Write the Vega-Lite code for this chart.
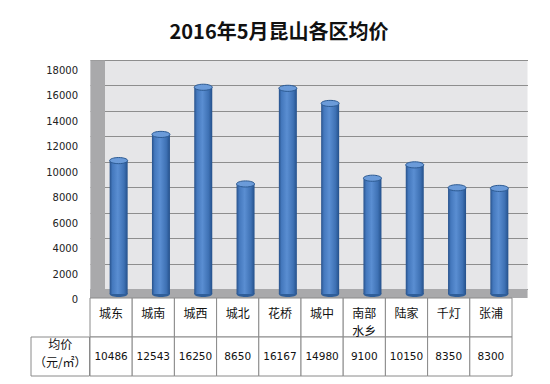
{
  "$schema": "https://vega.github.io/schema/vega-lite/v6.json",
  "padding": {"left": 30, "right": 24, "top": 23, "bottom": 6},
  "background": "white",
  "title": {"text": "2016年5月昆山各区均价", "font": "Noto Sans CJK SC", "fontSize": 20, "fontWeight": "bold", "color": "#111111", "anchor": "middle", "offset": 17},
  "config": {"axis": {"labelOverlap": false}, "axisY": {"labelOverlap": false}, "axisQuantitative": {"labelOverlap": false}},
  "datasets": {
    "d": [
      {"district": "城东", "label": "城东", "value": 10486},
      {"district": "城南", "label": "城南", "value": 12543},
      {"district": "城西", "label": "城西", "value": 16250},
      {"district": "城北", "label": "城北", "value": 8650},
      {"district": "花桥", "label": "花桥", "value": 16167},
      {"district": "城中", "label": "城中", "value": 14980},
      {"district": "南部水乡", "label": "南部\n水乡", "value": 9100},
      {"district": "陆家", "label": "陆家", "value": 10150},
      {"district": "千灯", "label": "千灯", "value": 8350},
      {"district": "张浦", "label": "张浦", "value": 8300}
    ]
  },
  "columns": 2,
  "spacing": 0,
  "bounds": "flush",
  "align": "each",
  "resolve": {"scale": {"x": "independent", "y": "independent"}},
  "concat": [
    {
      "width": 58.5,
      "height": 238,
      "view": {"stroke": null},
      "data": {"values": [{}]},
      "mark": {"type": "text", "text": ""},
      "encoding": {}
    },
    {
      "width": 437.5,
      "height": 238,
      "view": {"fill": "#e6e6e8", "stroke": null},
      "data": {"name": "d"},
      "layer": [
        {
          "data": {"values": [{}]},
          "mark": {"type": "rect", "color": "#a9a9ab"},
          "encoding": {
            "y": {"datum": 0, "type": "quantitative", "scale": {"domain": [-707, 18000], "nice": false, "zero": false},
              "axis": {"values": [0, 2000, 4000, 6000, 8000, 10000, 12000, 14000, 16000, 18000], "format": "d", "labelOverlap": false, "grid": true, "gridColor": "#8e8e8e", "gridWidth": 1.2, "domain": true, "domainColor": "#a9a9ab", "domainWidth": 14.5, "offset": -7.25, "ticks": false, "tickSize": 0, "labelPadding": 19.75, "labelOffset": 10.5, "labelFont": "DejaVu Sans", "labelFontSize": 10, "labelColor": "#222222", "title": null}},
            "y2": {"datum": -707}
          }
        },
        {
          "mark": {"type": "point", "shape": "M -1 0 A 1 0.34 0 1 1 1 0 A 1 0.34 0 1 1 -1 0 Z", "size": 324, "filled": true, "opacity": 1, "xOffset": -7, "yOffset": 5, "color": "#2f5e99"},
          "encoding": {
            "x": {"field": "district", "type": "nominal", "sort": null, "scale": {"paddingInner": 0, "paddingOuter": 0.1714, "align": 1}, "axis": null},
            "y": {"datum": 0, "type": "quantitative",
              "axis": {"values": [0, 2000, 4000, 6000, 8000, 10000, 12000, 14000, 16000, 18000], "format": "d", "labelOverlap": false, "grid": true, "gridColor": "#8e8e8e", "gridWidth": 1.2, "domain": true, "domainColor": "#a9a9ab", "domainWidth": 14.5, "offset": -7.25, "ticks": false, "tickSize": 0, "labelPadding": 19.75, "labelOffset": 10.5, "labelFont": "DejaVu Sans", "labelFontSize": 10, "labelColor": "#222222", "title": null}}
          }
        },
        {
          "mark": {"type": "bar", "width": 18, "xOffset": -7, "yOffset": 5, "y2Offset": 5,
            "color": {"gradient": "linear", "x1": 0, "x2": 1, "y1": 0, "y2": 0,
              "stops": [
                {"offset": 0, "color": "#27518a"},
                {"offset": 0.15, "color": "#4478bd"},
                {"offset": 0.45, "color": "#5a8ed2"},
                {"offset": 0.8, "color": "#3e71b4"},
                {"offset": 1, "color": "#24508a"}
              ]}},
          "encoding": {
            "x": {"field": "district", "type": "nominal", "sort": null},
            "y": {"field": "value", "type": "quantitative",
              "axis": {"values": [0, 2000, 4000, 6000, 8000, 10000, 12000, 14000, 16000, 18000], "format": "d", "labelOverlap": false, "grid": true, "gridColor": "#8e8e8e", "gridWidth": 1.2, "domain": true, "domainColor": "#a9a9ab", "domainWidth": 14.5, "offset": -7.25, "ticks": false, "tickSize": 0, "labelPadding": 19.75, "labelOffset": 10.5, "labelFont": "DejaVu Sans", "labelFontSize": 10, "labelColor": "#222222", "title": null}},
            "y2": {"datum": 0}
          }
        },
        {
          "mark": {"type": "point", "shape": "M -1 0 A 1 0.34 0 1 1 1 0 A 1 0.34 0 1 1 -1 0 Z", "size": 324, "filled": true, "opacity": 1, "xOffset": -7, "yOffset": 5, "fill": "#6b9bd9", "stroke": "#2c5a92", "strokeWidth": 1},
          "encoding": {
            "x": {"field": "district", "type": "nominal", "sort": null},
            "y": {"field": "value", "type": "quantitative",
              "axis": {"values": [0, 2000, 4000, 6000, 8000, 10000, 12000, 14000, 16000, 18000], "format": "d", "labelOverlap": false, "grid": true, "gridColor": "#8e8e8e", "gridWidth": 1.2, "domain": true, "domainColor": "#a9a9ab", "domainWidth": 14.5, "offset": -7.25, "ticks": false, "tickSize": 0, "labelPadding": 19.75, "labelOffset": 10.5, "labelFont": "DejaVu Sans", "labelFontSize": 10, "labelColor": "#222222", "title": null}}
          }
        }
      ]
    },
    {
      "width": 58.5,
      "height": 78,
      "view": {"stroke": null},
      "data": {"values": [{}]},
      "layer": [
        {
          "mark": {"type": "rect", "fill": "white", "stroke": "#8a8a8a", "strokeWidth": 1},
          "encoding": {
            "y": {"datum": "v", "type": "nominal", "scale": {"domain": ["h", "v"], "paddingInner": 0, "paddingOuter": 0}, "axis": null}
          }
        },
        {
          "mark": {"type": "text", "text": ["均价", "（元/㎡）"], "baseline": "middle", "dy": -12, "lineHeight": 18, "font": "Noto Sans CJK SC", "fontSize": 12, "color": "#111111"},
          "encoding": {
            "y": {"datum": "v", "type": "nominal"}
          }
        }
      ]
    },
    {
      "width": 422,
      "height": 78,
      "view": {"stroke": null},
      "data": {"name": "d"},
      "layer": [
        {
          "mark": {"type": "rect", "fill": "white", "stroke": "#8a8a8a", "strokeWidth": 1},
          "encoding": {
            "x": {"field": "district", "type": "nominal", "sort": null, "scale": {"paddingInner": 0, "paddingOuter": 0}, "axis": null},
            "y": {"datum": "h", "type": "nominal", "scale": {"domain": ["h", "v"], "paddingInner": 0, "paddingOuter": 0}, "axis": null}
          }
        },
        {
          "mark": {"type": "rect", "fill": "white", "stroke": "#8a8a8a", "strokeWidth": 1},
          "encoding": {
            "x": {"field": "district", "type": "nominal", "sort": null},
            "y": {"datum": "v", "type": "nominal"}
          }
        },
        {
          "mark": {"type": "text", "baseline": "top", "dy": 10.5, "lineHeight": 18, "lineBreak": "\n", "font": "Noto Sans CJK SC", "fontSize": 12, "color": "#111111"},
          "encoding": {
            "x": {"field": "district", "type": "nominal", "sort": null},
            "y": {"datum": "h", "type": "nominal", "bandPosition": 0},
            "text": {"field": "label", "type": "nominal"}
          }
        },
        {
          "mark": {"type": "text", "baseline": "middle", "font": "DejaVu Sans", "fontSize": 10.5, "color": "#111111"},
          "encoding": {
            "x": {"field": "district", "type": "nominal", "sort": null},
            "y": {"datum": "v", "type": "nominal"},
            "text": {"field": "value", "type": "quantitative", "format": "d"}
          }
        }
      ]
    }
  ]
}
